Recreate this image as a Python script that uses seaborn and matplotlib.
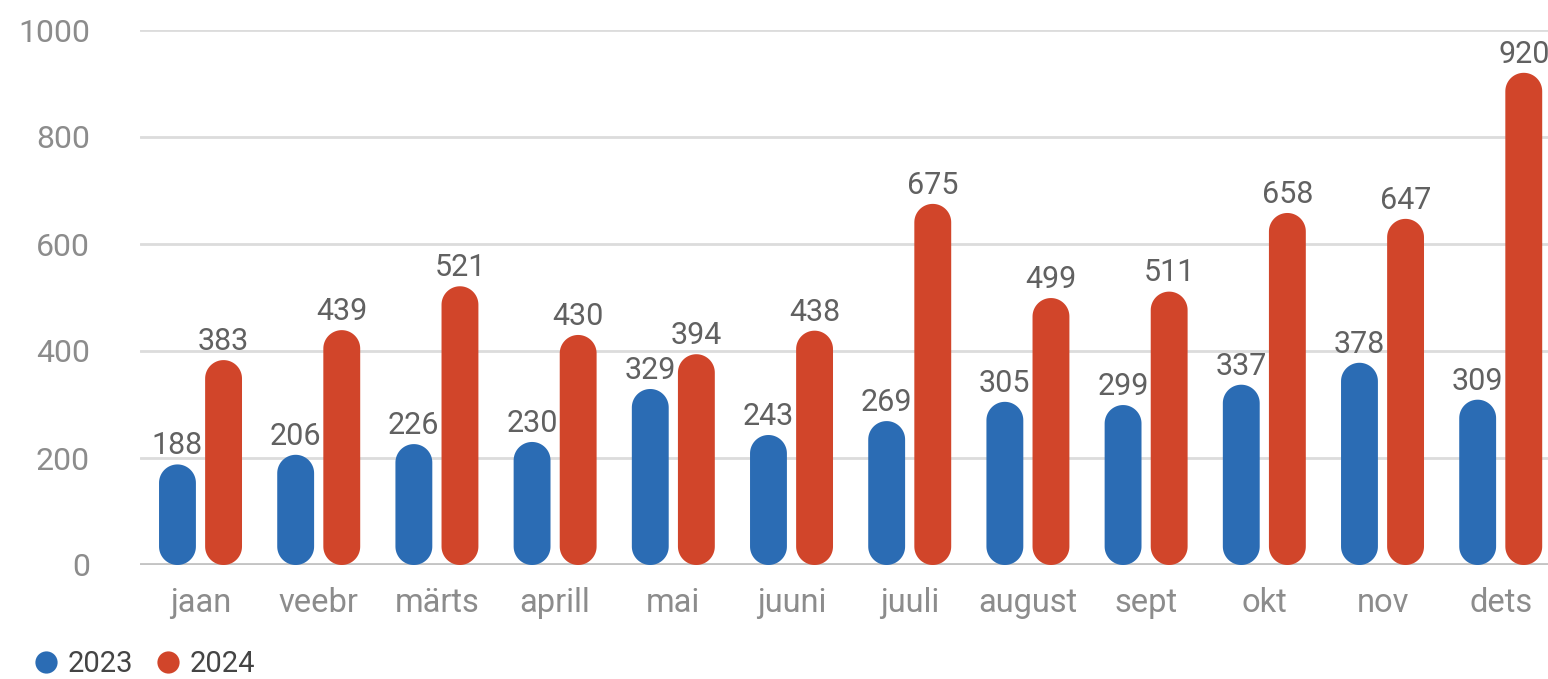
import numpy as np
import pandas as pd
import seaborn as sns
import matplotlib.pyplot as plt
from matplotlib.patches import Polygon
from matplotlib.lines import Line2D

months = ['jaan', 'veebr', 'märts', 'aprill', 'mai', 'juuni',
          'juuli', 'august', 'sept', 'okt', 'nov', 'dets']
years = ['2023', '2024']
values_2023 = [188, 206, 226, 230, 329, 243, 269, 305, 299, 337, 378, 309]
values_2024 = [383, 439, 521, 430, 394, 438, 675, 499, 511, 658, 647, 920]
colors = {'2023': '#2b6cb4', '2024': '#d1452a'}

df = pd.DataFrame({
    'month': months * 2,
    'year': ['2023'] * 12 + ['2024'] * 12,
    'value': values_2023 + values_2024,
})

sns.set_style('white')
plt.rcParams['font.family'] = ['Roboto', 'DejaVu Sans']

W, H = 1548, 679
fig = plt.figure(figsize=(W / 100, H / 100), dpi=100)
ax = fig.add_axes([140 / W, 114 / H, 1 - 140 / W, 535 / H])

sns.barplot(data=df, x='month', y='value', hue='year', palette=colors,
            saturation=1, width=0.78, gap=0.2, ax=ax, legend=False, zorder=3)

xlim = (-0.512, 11.40)
ylim = (0, 1000)
ax.set_xlim(*xlim)
ax.set_ylim(*ylim)

# pill-shaped bars: replace rectangles with semicircle-capped shapes
px_x = (W - 140) / (xlim[1] - xlim[0])
px_y = 535 / (ylim[1] - ylim[0])
t_top = np.linspace(0, np.pi, 40)
t_bot = np.linspace(np.pi, 2 * np.pi, 40)
for p in list(ax.patches):
    x, y, w, h = p.get_x(), p.get_y(), p.get_width(), p.get_height()
    if h <= 0:
        continue
    fc = p.get_facecolor()
    p.set_visible(False)
    rx = w / 2
    ry = rx * px_x / px_y
    cx = x + rx
    top = np.column_stack([cx + rx * np.cos(t_top), y + h - ry + ry * np.sin(t_top)])
    bot = np.column_stack([cx + rx * np.cos(t_bot), y + ry + ry * np.sin(t_bot)])
    ax.add_patch(Polygon(np.vstack([top, bot]), closed=True, facecolor=fc,
                         edgecolor='none', zorder=3))
    ax.annotate(f'{int(round(h))}', (cx, h), xytext=(0, 3),
                textcoords='offset points', ha='center', va='bottom',
                fontsize=22, color='#616161', zorder=4, annotation_clip=False)

ax.set_yticks([0, 200, 400, 600, 800, 1000])
ax.grid(axis='y', color='#dcdcdc', linewidth=2, zorder=0)
ax.axhline(0, color='#c4c4c4', linewidth=3.5, zorder=2)
for s in ax.spines.values():
    s.set_visible(False)
ax.tick_params(axis='y', length=0, pad=36, labelsize=23, labelcolor='#8c8c8c')
ax.tick_params(axis='x', length=0, pad=16, labelsize=23.5, labelcolor='#8c8c8c')
ax.set_xlabel('')
ax.set_ylabel('')

handles = [Line2D([], [], marker='o', linestyle='none', markersize=16,
                  markerfacecolor=colors[y], markeredgecolor='none', label=y)
           for y in years]
fig.legend(handles=handles, loc='center left',
           bbox_to_anchor=(34 / W, 1 - 664 / H), borderpad=0, borderaxespad=0,
           ncol=2, frameon=False, fontsize=21, handlelength=0.8,
           handletextpad=0.35, columnspacing=0.8, labelcolor='#444444')

fig.savefig('out.png', dpi=100)
